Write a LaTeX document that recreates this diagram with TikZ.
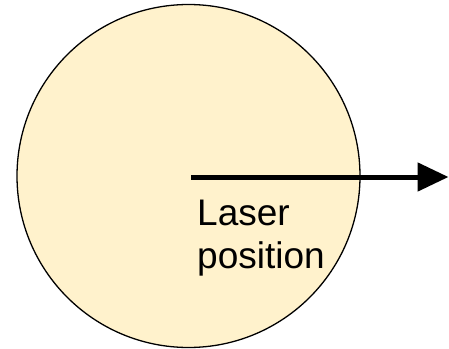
\documentclass[tikz,border=0pt]{standalone}
\usepackage{fontspec}
\setmainfont{Liberation Sans}
\usetikzlibrary{arrows.meta}
\definecolor{discfill}{HTML}{FFF2CC}
\begin{document}
\begin{tikzpicture}[x=1pt,y=-1pt,
  disc/.style={circle,draw=black,line width=1.3pt,fill=discfill,inner sep=0pt,minimum size=343pt},
  laserarrow/.style={line width=5pt,-{Triangle[length=31pt,width=28pt]}},
  lbl/.style={font=\fontsize{37}{43}\selectfont,align=left,inner sep=0pt,anchor=north west}]
\useasboundingbox (0,0) rectangle (449,348);
\node[disc] (disc) at (188.5,176) {};
\coordinate (start) at (191,177);
\coordinate (tip) at (448.5,177);
\draw[laserarrow] (start) -- (tip);
\node[lbl] (label) at (197,200) {Laser\\position};
\end{tikzpicture}
\end{document}
